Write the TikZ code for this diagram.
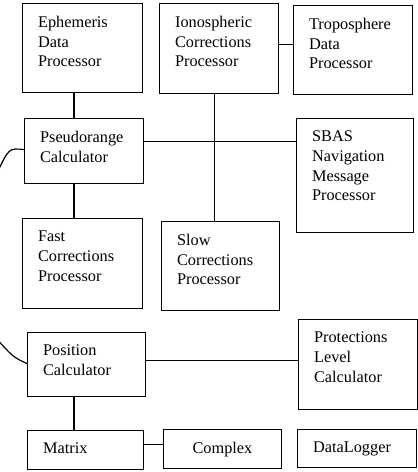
\documentclass[tikz,border=0pt]{standalone}
\usepackage{fontspec}
\setmainfont{Liberation Serif}
\usetikzlibrary{positioning}
\tikzset{
  block/.style={draw, line width=1.2pt, anchor=north west, inner sep=0pt,
    font=\fontsize{16.3}{19.7}\selectfont},
  link/.style={line width=1.2pt}
}
% box body: [inset]{width}{height}{text}, text hung from the top
\newcommand{\blocktext}[4][15.5pt]{\parbox[c][#3][t]{#2}{\leftskip=#1\relax\vspace*{12.4pt}#4}}

\begin{document}
\begin{tikzpicture}[x=1pt, y=-1pt]
  \useasboundingbox (0,0) rectangle (418,472);

  % Top row
  \node[block] (eph) at (22,3) {\blocktext{120pt}{89pt}{Ephemeris\\Data\\Processor}};
  \node[block] (iono) at (159,3) {\blocktext{119pt}{90pt}{Ionospheric\\Corrections\\Processor}};
  \node[block] (tropo) at (293,5) {\blocktext{119pt}{89pt}{Troposphere\\Data\\Processor}};

  % Middle rows
  \node[block] (pseudo) at (24,118) {\blocktext{119pt}{65pt}{Pseudorange\\Calculator}};
  \node[block] (sbas) at (296,118) {\blocktext{117pt}{114pt}{SBAS\\Navigation\\Message\\Processor}};
  \node[block] (fast) at (22,218) {\blocktext{120pt}{90pt}{Fast\\Corrections\\Processor}};
  \node[block] (slow) at (161,221) {\blocktext{118pt}{89pt}{Slow\\Corrections\\Processor}};

  % Lower rows
  \node[block] (pos) at (27,332) {\blocktext{118pt}{64pt}{Position\\Calculator}};
  \node[block] (prot) at (298,319) {\blocktext{119pt}{90pt}{Protections\\Level\\Calculator}};
  \node[block] (matrix) at (27,430) {\blocktext{116pt}{39pt}{Matrix}};
  \node[block] (complex) at (163,429) {\blocktext[29pt]{118pt}{39pt}{Complex}};
  \node[block] (logger) at (297,429) {\blocktext{119pt}{38pt}{DataLogger}};

  % Connectors
  \draw[link] ([xshift=52pt]eph.south west) -- ([xshift=52pt]eph.south west |- pseudo.north);
  \draw[link] ([yshift=4pt]iono.east) -- ([yshift=4pt]iono.east -| tropo.west);
  \draw[link] ([yshift=10pt]pseudo.east) -- ([yshift=10pt]pseudo.east -| sbas.west);
  \draw[link] ([xshift=-5pt]iono.south) -- ([xshift=-5pt]iono.south |- slow.north);
  \draw[link] ([xshift=50pt]pseudo.south west) -- ([xshift=50pt]pseudo.south west |- fast.north);
  \draw[link] ([yshift=4pt]pos.east) -- ([yshift=4pt]pos.east -| prot.west);
  \draw[link] ([xshift=47pt]pos.south west) -- ([xshift=47pt]pos.south west |- matrix.north);
  \draw[link] ([yshift=6pt]matrix.east) -- ([yshift=6pt]matrix.east -| complex.west);

  % Loose ends leaving the left edge
  \coordinate (pseudoin) at (-3,173);
  \coordinate (posin) at (-5,337);
  \draw[link] ([yshift=1.5pt]pseudo.west) .. controls (9,148) .. (pseudoin);
  \draw[link] ([yshift=1pt]pos.west) .. controls (13,357) .. (posin);
\end{tikzpicture}
\end{document}
